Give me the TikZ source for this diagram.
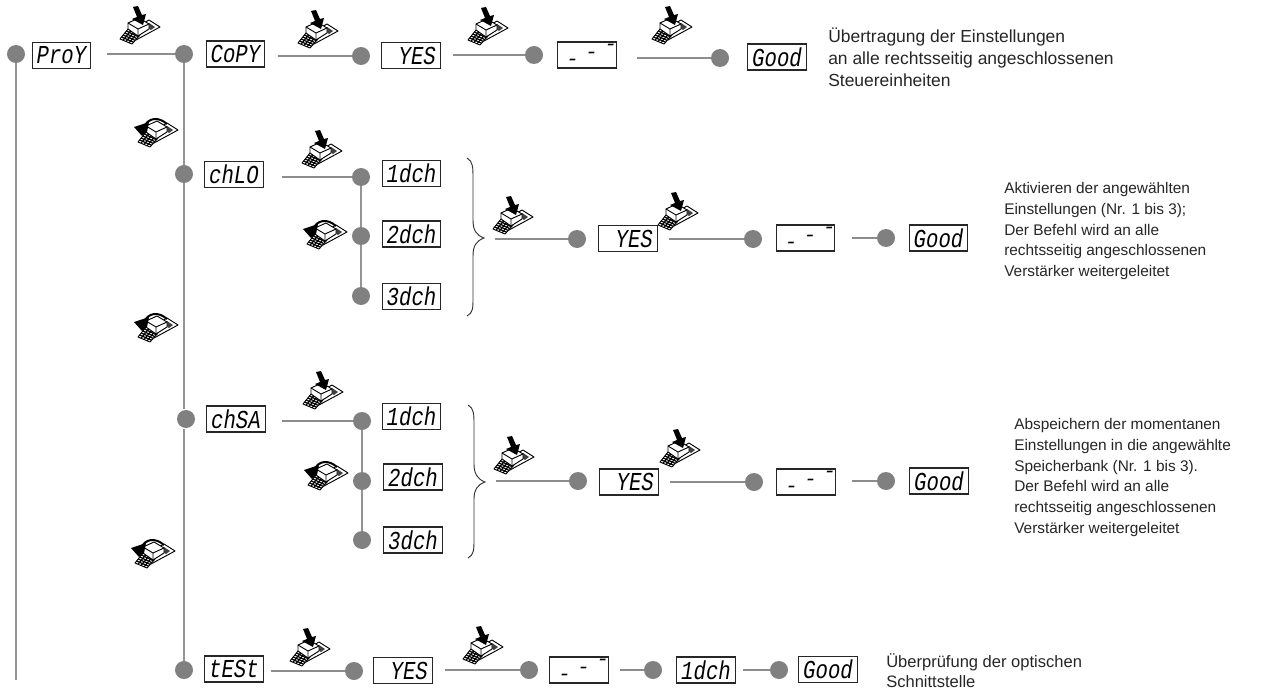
\documentclass[tikz,border=0pt]{standalone}
\usepackage{fontspec}
\setmainfont{Liberation Sans}
\newfontfamily\segfont{Liberation Mono}
\usetikzlibrary{calc}
\tikzset{
  x=0.75pt,y=-0.75pt,
  disp/.style={draw=black!85,line width=0.95pt,fill=white,minimum width=44pt,minimum height=19.5pt,inner sep=0pt,
    font=\segfont\itshape\fontsize{15.5}{15.5}\selectfont},
  dot/.style={circle,fill=black!50,draw=none,minimum size=13.5pt,inner sep=0pt},
  conn/.style={draw=black!45,line width=1.1pt},
  trunk/.style={draw=black!42,line width=1.4pt},
  bracelike/.style={draw=black!80,line width=0.7pt},
  note/.style={anchor=north west,inner sep=0pt,align=left,text=black!85},
  pics/basekey/.style={code={
    \fill[white] (-20,7) -- (8,-12) -- (20,-5) -- (-8,12) -- cycle;
    \draw[black,line width=0.7pt,line join=round] (-20,7) -- (-12,-3) -- (0,3) -- (-8,12) -- cycle;
    \foreach \t in {0.2,0.4,0.6,0.8}
      \draw[black,line width=0.9pt] ($(-20,7)!\t!(-12,-3)$) -- ($(-8,12)!\t!(0,3)$);
    \foreach \t in {0.25,0.5,0.75}
      \draw[black,line width=0.9pt] ($(-20,7)!\t!(-8,12)$) -- ($(-12,-3)!\t!(0,3)$);
    \draw[black,line width=0.7pt,line join=round] (-4,8) -- (20,-5) -- (9,-12) -- (2,-8);
    \fill[black!75] (9,-9) -- (15,-5) -- (11,-2) -- (5,-6) -- cycle;
    \filldraw[fill=white,draw=black,line width=0.7pt,line join=round]
      (-12,-9) -- (-1,-14) -- (9,-8) -- (9,-3) -- (-2,4) -- (-12,-3) -- cycle;
    \draw[black,line width=0.7pt] (-12,-9) -- (-2,-3) -- (9,-8) (-2,-3) -- (-2,4);
  }},
  pics/presskey/.style={code={
    \pic {basekey};
    \fill[black] (-7,-25) -- (-2,-26) -- (2,-17) -- (6,-18) -- (3,-7) -- (-8,-13) -- (-3,-15) -- cycle;
  }},
  pics/turnkey/.style={code={
    \pic {basekey};
    \draw[black,line width=1.5pt] (-14,-8) .. controls (-10,-17) and (0,-19) .. (9,-11);
    \fill[black] (-24,-8) -- (-9,-13) -- (-11,-3) -- (-16,1) -- cycle;
  }}
}
\newcommand{\dashes}{\makebox[38pt][c]{\hspace{7pt}\raisebox{-5.5pt}{-}\hspace{5pt}-\hspace{5pt}\raisebox{6pt}{-}}}
\newcommand{\seg}[1]{\scalebox{1}[1.25]{#1}}
\newcommand{\gapline}[3]{\draw[conn,shorten <=#3*0.75pt] (#1.east |- #2) -- (#2.west);}
\begin{document}
\begin{tikzpicture}
\useasboundingbox[fill=white] (0,0) rectangle (1271,692);
% dots
\foreach \n/\x/\y in {p/16/54,m1/184/54,a1/361/56,a2/534/55,a3/720/58,
  m2/184/174,b1/361/177,b2/361/236,b3/361/296,b4/577/239,b5/753/239,b6/886/238,
  m3/186/419,c1/362/421,c2/362/481,c3/362/540,c4/578/481,c5/754/482,c6/886/481,
  m4/184/670,d1/354/671,d2/529/670,d3/653/670,d4/779/670}
  \node[dot] (\n) at (\x,\y) {};
\coordinate (pend) at (16,680);
% displays
\node[disp] (proy) at (61.5,55.5) {\seg{ProY}};
\node[disp] (copy) at (235.5,54) {\seg{CoPY}};
\node[disp] (yesa) at (411,55.5) {\seg{\ YES}};
\node[disp] (dasha) at (587,55) {\dashes};
\node[disp] (gooda) at (777,57) {\seg{Good}};
\node[disp] (chlo) at (234,174.5) {\seg{chLO}};
\node[disp] (bch1) at (411.5,173.5) {\seg{1dch}};
\node[disp] (bch2) at (411.5,234) {\seg{2dch}};
\node[disp] (bch3) at (411.5,296.5) {\seg{3dch}};
\node[disp] (yesb) at (628,238.5) {\seg{\ YES}};
\node[disp] (dashb) at (805.5,238) {\dashes};
\node[disp] (goodb) at (938.5,238) {\seg{Good}};
\node[disp] (chsa) at (236,419) {\seg{chSA}};
\node[disp] (cch1) at (411.5,416.5) {\seg{1dch}};
\node[disp] (cch2) at (413,477) {\seg{2dch}};
\node[disp] (cch3) at (413,540) {\seg{3dch}};
\node[disp] (yesc) at (629,482) {\seg{\ YES}};
\node[disp] (dashc) at (806,482) {\dashes};
\node[disp] (goodc) at (939,481) {\seg{Good}};
\node[disp] (test) at (234,669) {\seg{tESt}};
\node[disp] (yesd) at (403,670.5) {\seg{\ YES}};
\node[disp] (dashd) at (579,670) {\dashes};
\node[disp] (chd) at (706,670) {\seg{1dch}};
\node[disp] (goodd) at (828,669.5) {\seg{Good}};
% trunks
\draw[trunk] (p) -- (pend);
\draw[trunk] (m1) -- (m2);
\draw[trunk] (m2) -- (184,409);
\draw[trunk] (184,429) -- (m4);
\draw[trunk] (b1) -- (b2);
\draw[trunk] (b2) -- (b3);
\draw[trunk] (c1) -- (c2);
\draw[trunk] (c2) -- (c3);
% connectors
\gapline{proy}{m1}{16}
\gapline{copy}{a1}{13}
\gapline{yesa}{a2}{12}
\gapline{dasha}{a3}{20}
\gapline{chlo}{b1}{18}
\gapline{yesb}{b5}{11}
\gapline{dashb}{b6}{17}
\gapline{chsa}{c1}{16}
\gapline{yesc}{c5}{11}
\gapline{dashc}{c6}{16}
\gapline{test}{d1}{7}
\gapline{yesd}{d2}{12}
\gapline{dashd}{d3}{11}
\gapline{chd}{d4}{7}
\coordinate (bf) at (495,239);
\coordinate (cf) at (496,481);
\draw[conn] (bf) -- (b4.west);
\draw[conn] (cf) -- (c4.west);
% braces
\draw[bracelike] (467,158) .. controls (473,161) and (473,168) .. (473,178) -- (473,220)
  .. controls (473,230) and (476,235) .. (484,238)
  .. controls (476,241) and (473,246) .. (473,256) -- (473,298)
  .. controls (473,308) and (473,313) .. (467,316);
\draw[bracelike] (468,405) .. controls (474,408) and (474,415) .. (474,424) -- (474,464)
  .. controls (474,473) and (477,479) .. (485,482)
  .. controls (477,485) and (474,490) .. (474,499) -- (474,540)
  .. controls (474,549) and (474,555) .. (468,558);
% key icons
\foreach \x/\y in {140/32,318/36,488/33,672/32,322/156,513/222,678/218,323/397,514/462,680/455,310/654,483/652}
  \pic at (\x,\y) {presskey};
\foreach \x/\y in {158/135,158/330,155/556,327/237,328/478}
  \pic at (\x,\y) {turnkey};
% notes
\node[note,font=\fontsize{13.1}{16.3}\selectfont] (n1) at (828,28) {Übertragung der Einstellungen\\an alle rechtsseitig angeschlossenen\\Steuereinheiten};
\node[note,font=\fontsize{11.55}{15.6}\selectfont] (n2) at (1004,182) {Aktivieren der angewählten\\Einstellungen (Nr. 1 bis 3);\\Der Befehl wird an alle\\rechtsseitig angeschlossenen\\Verstärker weitergeleitet};
\node[note,font=\fontsize{11.55}{15.6}\selectfont] (n3) at (1014,418) {Abspeichern der momentanen\\Einstellungen in die angewählte\\Speicherbank (Nr. 1 bis 3).\\Der Befehl wird an alle\\rechtsseitig angeschlossenen\\Verstärker weitergeleitet};
\node[note,font=\fontsize{12.4}{15}\selectfont] (n4) at (886,653) {Überprüfung der optischen\\Schnittstelle};
\end{tikzpicture}
\end{document}
